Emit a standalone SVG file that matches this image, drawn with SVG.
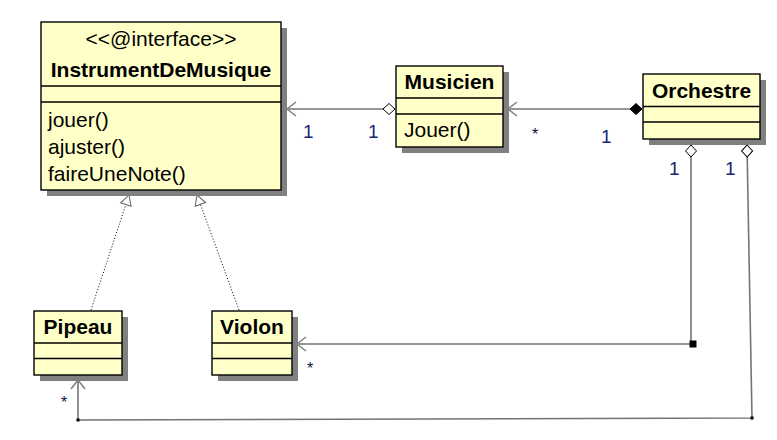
<svg xmlns="http://www.w3.org/2000/svg" width="777" height="440" viewBox="0 0 777 440">
<style>
.box{fill:#ffffc8;stroke:#000;stroke-width:1.4}
.sh{fill:#808080}
.sep{stroke:#000;stroke-width:1.3}
.t{font-family:"Liberation Sans",Arial,sans-serif;font-size:21px;fill:#000}
.b{font-family:"Liberation Sans",Arial,sans-serif;font-size:21px;font-weight:bold;fill:#000;text-anchor:middle}
.m{font-family:"Liberation Sans",Arial,sans-serif;font-size:19px;fill:#1c2478}
.s{font-family:"Liberation Sans",Arial,sans-serif;font-size:16px;fill:#101040}
.ln{fill:none;stroke:#747474;stroke-width:1.6}
.dot{fill:none;stroke:#000;stroke-width:1;stroke-dasharray:1,2}
</style>
<defs>
<marker id="vee" markerUnits="userSpaceOnUse" orient="auto" refX="0" refY="0" markerWidth="20" markerHeight="20" overflow="visible">
<path d="M-9,-7 L0,0 L-9,7" fill="none" stroke="#808080" stroke-width="1.5"/>
</marker>
<marker id="tri" markerUnits="userSpaceOnUse" orient="auto" refX="0" refY="0" markerWidth="20" markerHeight="20" overflow="visible">
<path d="M0,0 L-10,-5.5 L-10,5.5 Z" fill="#fff" stroke="#606060" stroke-width="1"/>
</marker>
<marker id="dOpen" markerUnits="userSpaceOnUse" orient="auto" refX="0" refY="0" markerWidth="20" markerHeight="20" overflow="visible">
<path d="M0,0 L6,-5.5 L12,0 L6,5.5 Z" fill="#fff" stroke="#000" stroke-width="1"/>
</marker>
<marker id="dFill" markerUnits="userSpaceOnUse" orient="auto" refX="0" refY="0" markerWidth="20" markerHeight="20" overflow="visible">
<path d="M0,0 L6,-5.5 L12,0 L6,5.5 Z" fill="#000" stroke="#000" stroke-width="1"/>
</marker>
</defs>
<rect width="777" height="440" fill="#fff"/>

<g id="connectors">
<path class="dot" d="M91,310 L129,195" marker-end="url(#tri)"/>
<path class="dot" d="M239,310 L197,195" marker-end="url(#tri)"/>
<path class="ln" d="M395,109 L287,109" marker-start="url(#dOpen)" marker-end="url(#vee)"/>
<path class="ln" d="M642,109 L508,109" marker-start="url(#dFill)" marker-end="url(#vee)"/>
<path class="ln" d="M691,145 L691,344 L297,344" marker-start="url(#dOpen)" marker-end="url(#vee)"/>
<path class="ln" d="M747,145 L752,418 L78,420 L78,380" marker-start="url(#dOpen)" marker-end="url(#vee)"/>
<rect x="689.5" y="340.5" width="7" height="7" fill="#000"/>
<rect x="750.5" y="416.5" width="3" height="3" fill="#000"/>
<rect x="76.5" y="418.5" width="3" height="3" fill="#000"/>
<text class="m" x="303" y="138">1</text>
<text class="m" x="368" y="138">1</text>
<text class="s" x="532" y="140">*</text>
<text class="m" x="601" y="143">1</text>
<text class="m" x="669" y="175">1</text>
<text class="m" x="725" y="175">1</text>
<text class="s" x="307" y="374">*</text>
<text class="s" x="61" y="408">*</text>
</g>

<g id="InstrumentDeMusique">
<rect class="sh" x="47" y="28" width="240" height="168"/>
<rect class="box" x="41" y="22" width="240" height="168"/>
<line class="sep" x1="41" y1="86" x2="281" y2="86"/>
<line class="sep" x1="41" y1="102" x2="281" y2="102"/>
<text class="t" x="161" y="46" text-anchor="middle">&lt;&lt;@interface&gt;&gt;</text>
<text class="b" x="161" y="77">InstrumentDeMusique</text>
<text class="t" x="48" y="127">jouer()</text>
<text class="t" x="48" y="154">ajuster()</text>
<text class="t" x="48" y="181">faireUneNote()</text>
</g>

<g id="Musicien">
<rect class="sh" x="402" y="72" width="107" height="81"/>
<rect class="box" x="396" y="66" width="107" height="81"/>
<line class="sep" x1="396" y1="98" x2="503" y2="98"/>
<line class="sep" x1="396" y1="114" x2="503" y2="114"/>
<text class="b" x="449.5" y="89">Musicien</text>
<text class="t" x="404" y="137">Jouer()</text>
</g>

<g id="Orchestre">
<rect class="sh" x="649" y="80" width="117" height="65"/>
<rect class="box" x="643" y="74" width="117" height="65"/>
<line class="sep" x1="643" y1="106.5" x2="760" y2="106.5"/>
<line class="sep" x1="643" y1="122" x2="760" y2="122"/>
<text class="b" x="701.5" y="97.5">Orchestre</text>
</g>

<g id="Pipeau">
<rect class="sh" x="40" y="317" width="88" height="64"/>
<rect class="box" x="34" y="311" width="88" height="64"/>
<line class="sep" x1="34" y1="343" x2="122" y2="343"/>
<line class="sep" x1="34" y1="358.5" x2="122" y2="358.5"/>
<text class="b" x="78" y="334">Pipeau</text>
</g>

<g id="Violon">
<rect class="sh" x="218" y="317" width="80" height="64"/>
<rect class="box" x="212" y="311" width="80" height="64"/>
<line class="sep" x1="212" y1="343" x2="292" y2="343"/>
<line class="sep" x1="212" y1="358.5" x2="292" y2="358.5"/>
<text class="b" x="252" y="334">Violon</text>
</g>
</svg>
